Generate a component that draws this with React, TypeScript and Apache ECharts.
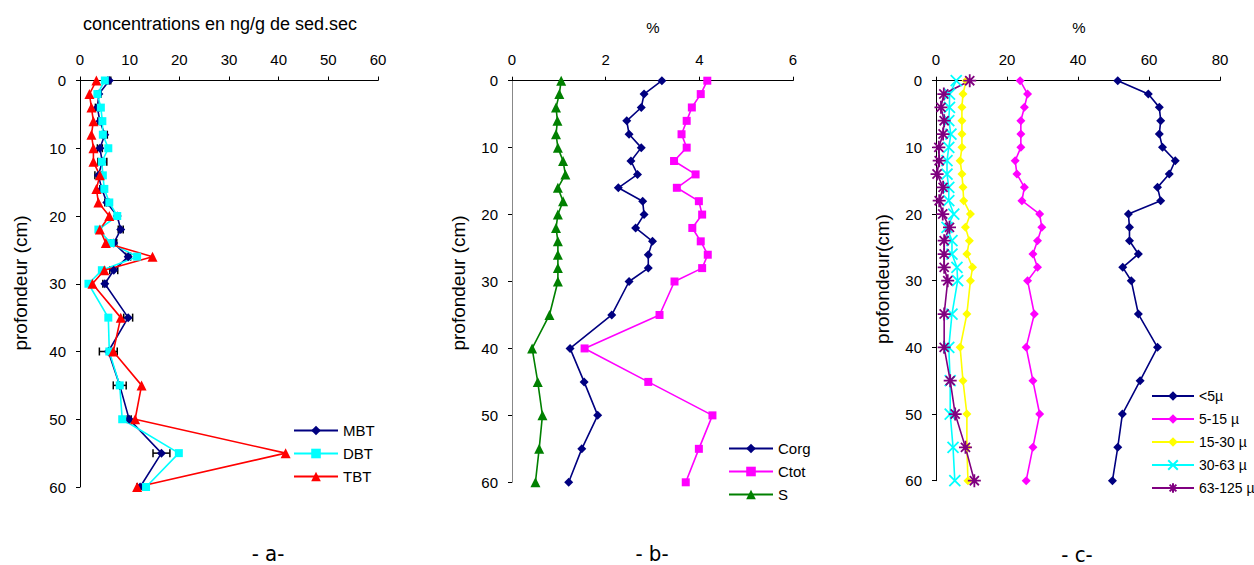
import React, { useEffect, useRef } from 'react';
import * as echarts from 'echarts';

// depth (cm)
const depths = [0, 2, 4, 6, 8, 10, 12, 14, 16, 18, 20, 22, 24, 26, 28, 30, 35, 40, 45, 50, 55, 60];

// panel a : concentrations ng/g
const mbt = [5.9, 3.8, 3.5, 4.0, 5.0, 4.0, 4.5, 3.7, 4.4, 5.4, 7.5, 8.2, 6.8, 9.7, 6.8, 5.0, 9.7, 5.7, 8.0, 9.9, 16.4, 12.1];
const mbtErr = [0.3, 0.4, 0.4, 0.4, 0.5, 0.5, 0.9, 0.7, 0.4, 0.4, 0.5, 0.5, 0.6, 0.5, 0.8, 0.4, 0.9, 1.8, 1.3, 0.4, 1.7, 0.6];
const dbt = [5.0, 3.5, 4.2, 4.5, 4.6, 5.7, 4.4, 4.6, 4.9, 5.9, 7.5, 3.7, 6.2, 11.5, 4.4, 1.7, 5.7, 5.9, 8.0, 8.5, 19.9, 13.3];
const tbt = [3.3, 1.9, 2.3, 2.7, 2.3, 2.7, 2.7, 4.0, 3.3, 3.7, 5.9, 4.0, 5.2, 14.6, 4.9, 2.5, 8.2, 6.7, 12.4, 11.1, 41.4, 11.5];

// panel b : %
const corg = [3.2, 2.82, 2.76, 2.45, 2.5, 2.76, 2.54, 2.68, 2.27, 2.79, 2.82, 2.64, 3.0, 2.91, 2.91, 2.5, 2.13, 1.24, 1.54, 1.83, 1.49, 1.21];
const ctot = [4.17, 4.03, 3.84, 3.73, 3.62, 3.73, 3.46, 3.92, 3.52, 3.99, 4.06, 3.85, 4.03, 4.18, 4.06, 3.47, 3.15, 1.55, 2.91, 4.28, 3.99, 3.71];
const sulfur = [1.05, 1.01, 0.94, 0.97, 0.94, 0.98, 1.09, 1.14, 0.98, 1.09, 0.98, 0.94, 0.98, 0.98, 0.98, 0.98, 0.8, 0.43, 0.55, 0.65, 0.58, 0.5];

// panel c : grain size %
const lt5 = [51.2, 59.8, 62.9, 63.3, 62.9, 63.8, 67.4, 65.7, 62.4, 63.3, 54.2, 54.5, 54.5, 57.0, 52.6, 55.0, 57.0, 62.4, 57.5, 52.5, 51.2, 49.7];
const f5_15 = [23.7, 25.8, 24.9, 23.9, 23.9, 23.9, 22.3, 22.8, 24.9, 24.2, 29.2, 29.8, 28.6, 27.3, 28.6, 25.8, 27.7, 25.4, 27.3, 29.2, 27.3, 25.4];
const f15_30 = [8.5, 7.6, 7.3, 7.3, 7.3, 7.3, 6.8, 7.3, 7.6, 7.8, 9.7, 8.3, 9.4, 8.7, 10.3, 9.7, 8.7, 6.8, 7.6, 8.7, 8.7, 9.0];
const f30_63 = [5.7, 3.8, 3.8, 3.6, 4.2, 3.6, 3.1, 3.1, 3.6, 3.6, 5.0, 3.1, 4.5, 4.5, 5.9, 6.1, 4.5, 3.6, 4.0, 4.0, 4.8, 5.3];
const f63_125 = [9.5, 2.2, 1.4, 2.3, 2.0, 0.8, 0.9, 0.3, 2.0, 0.9, 1.9, 3.8, 2.3, 2.3, 2.3, 3.3, 2.3, 2.3, 4.0, 5.4, 8.3, 10.8];

const FONT = 'Liberation Sans, Arial, sans-serif';
const NARROW = '"Liberation Sans Narrow", "DejaVu Sans Condensed", "Liberation Sans", sans-serif';
const pairs = (v: number[]) => depths.map((d, i) => [v[i], d]);

const crossPath = 'path://M0,0L10,10M10,0L0,10';
const starPath = 'path://M0,5L10,5M5,0L5,10M1.5,1.5L8.5,8.5M8.5,1.5L1.5,8.5';

function lineSeries(name: string, data: number[], color: string, symbol: string, size: number, idx: number, stroke = false) {
  return {
    type: 'line',
    name,
    data: pairs(data),
    xAxisIndex: idx,
    yAxisIndex: idx,
    symbol,
    symbolSize: size,
    lineStyle: { color, width: 1.6 },
    itemStyle: stroke
      ? { color: 'rgba(0,0,0,0)', borderColor: color, borderWidth: 1.8 }
      : { color, borderColor: color, borderWidth: 0 },
    emphasis: { disabled: true },
  };
}

export default function App() {
  const ref = useRef<HTMLDivElement>(null);
  useEffect(() => {
    if (!ref.current) return;
    const chart = echarts.init(ref.current, null, { renderer: 'svg' });
    const axisLabel = { fontFamily: FONT, fontSize: 15, color: '#000' };
    const mkX = (gi: number, max: number, interval: number) => ({
      type: 'value', gridIndex: gi, position: 'top', min: 0, max, interval,
      axisLine: { show: true, lineStyle: { color: '#000', width: 1 } },
      axisTick: { show: true, length: 4, lineStyle: { color: '#000' } },
      axisLabel: { ...axisLabel, margin: 14 },
      splitLine: { show: false },
    });
    const mkY = (gi: number, lineColor = '#000') => ({
      type: 'value', gridIndex: gi, inverse: true, min: 0, max: 60, interval: 10,
      axisLine: { show: true, onZero: false, lineStyle: { color: lineColor, width: 1 } },
      axisTick: { show: true, length: 4, lineStyle: { color: '#000' } },
      axisLabel: { ...axisLabel, margin: 14 },
      splitLine: { show: false },
    });
    const legendBase = {
      orient: 'vertical', itemWidth: 44, itemHeight: 12,
      textStyle: { fontFamily: FONT, fontSize: 15, color: '#000' },
      selectedMode: false,
    };
    const txt = (x: number, y: number, text: string, size: number, rotation = 0, family = FONT) => ({
      type: 'text', x, y, rotation,
      style: { text, fontFamily: family, fontSize: size, fill: '#000', align: 'center', verticalAlign: 'middle' },
    });
    chart.setOption({
      animation: false,
      backgroundColor: '#fff',
      grid: [
        { left: 80, top: 80.5, width: 298, height: 406.5 },
        { left: 512, top: 80.7, width: 281, height: 401.6 },
        { left: 936, top: 80.7, width: 284, height: 400 },
      ],
      xAxis: [mkX(0, 60, 10), mkX(1, 6, 2), mkX(2, 80, 20)],
      yAxis: [mkY(0), mkY(1, '#888'), mkY(2)],
      legend: [
        { ...legendBase, left: 288, top: 418, itemGap: 8, data: ['MBT', 'DBT', 'TBT'] },
        { ...legendBase, left: 723, top: 436, itemGap: 8, data: ['Corg', 'Ctot', 'S'] },
        {
          ...legendBase, left: 1146, top: 384, itemGap: 9, itemWidth: 42,
          textStyle: { fontFamily: FONT, fontSize: 14, color: '#000' },
          data: ['<5µ', '5-15 µ', '15-30 µ', '30-63 µ', '63-125 µ'],
        },
      ],
      graphic: [
        txt(220, 24, 'concentrations en ng/g de sed.sec', 18),
        txt(653, 27, '%', 15),
        txt(1079, 27, '%', 15),
        txt(20, 283, 'profondeur (cm)', 19, Math.PI / 2),
        txt(458, 283, 'profondeur (cm)', 19, Math.PI / 2),
        txt(882, 279, 'profondeur(cm)', 19, Math.PI / 2),
        txt(268, 553, '- a-', 22, 0, NARROW),
        txt(652, 553, '- b-', 22, 0, NARROW),
        txt(1077, 554, '- c-', 22, 0, NARROW),
      ],
      series: [
        lineSeries('MBT', mbt, '#000080', 'diamond', 9, 0),
        lineSeries('DBT', dbt, '#00FFFF', 'rect', 8, 0),
        lineSeries('TBT', tbt, '#FF0000', 'triangle', 10, 0),
        {
          type: 'custom',
          name: 'err',
          xAxisIndex: 0,
          yAxisIndex: 0,
          data: depths.map((d, i) => [mbt[i], d, mbtErr[i]]),
          encode: { x: 0, y: 1 },
          z: 3,
          renderItem: (params: any, api: any) => {
            const x = api.value(0), y = api.value(1), e = api.value(2);
            const p1 = api.coord([x - e, y]);
            const p2 = api.coord([x + e, y]);
            const h = 4;
            const st = { stroke: '#000', lineWidth: 1.5 };
            return {
              type: 'group',
              children: [
                { type: 'line', shape: { x1: p1[0], y1: p1[1], x2: p2[0], y2: p2[1] }, style: st },
                { type: 'line', shape: { x1: p1[0], y1: p1[1] - h, x2: p1[0], y2: p1[1] + h }, style: st },
                { type: 'line', shape: { x1: p2[0], y1: p2[1] - h, x2: p2[0], y2: p2[1] + h }, style: st },
              ],
            };
          },
        },
        lineSeries('Corg', corg, '#000080', 'diamond', 9, 1),
        lineSeries('Ctot', ctot, '#FF00FF', 'rect', 8, 1),
        lineSeries('S', sulfur, '#008000', 'triangle', 10, 1),
        lineSeries('<5µ', lt5, '#000080', 'diamond', 9, 2),
        lineSeries('5-15 µ', f5_15, '#FF00FF', 'diamond', 9, 2),
        lineSeries('15-30 µ', f15_30, '#FFFF00', 'diamond', 9, 2),
        lineSeries('30-63 µ', f30_63, '#00FFFF', crossPath, 11, 2, true),
        lineSeries('63-125 µ', f63_125, '#800080', starPath, 13, 2, true),
      ],
    });
    return () => chart.dispose();
  }, []);
  return <div ref={ref} style={{ position: 'absolute', left: 0, top: 0, width: 1254, height: 565 }} />;
}
